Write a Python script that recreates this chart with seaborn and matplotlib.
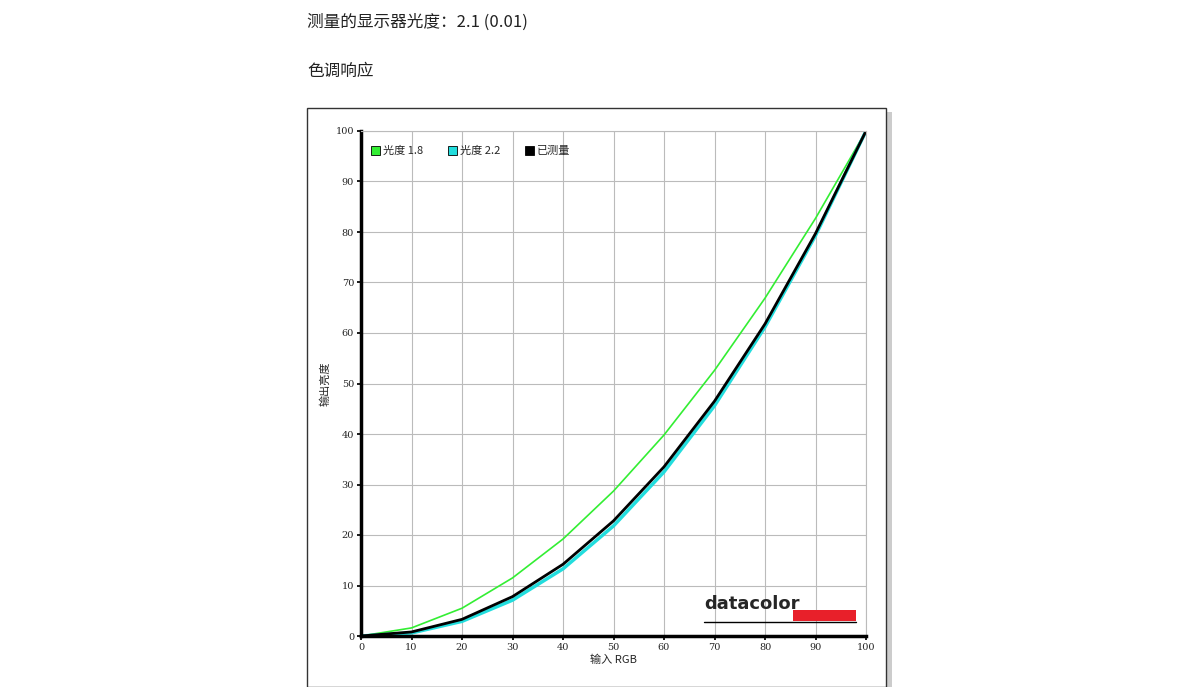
import matplotlib
matplotlib.use("Agg")
import matplotlib.pyplot as plt
import seaborn as sns
import pandas as pd
from matplotlib.patches import Rectangle

sns.set_theme(style="whitegrid")
plt.rcParams['font.family'] = ['Noto Sans CJK SC', 'DejaVu Sans']

x_rgb = [0, 10, 20, 30, 40, 50, 60, 70, 80, 90, 100]
gamma18 = [0, 1.6, 5.5, 11.5, 19.2, 28.7, 39.8, 52.6, 66.9, 82.7, 100]
gamma22 = [0, 0.6, 2.9, 7.1, 13.3, 21.8, 32.5, 45.6, 61.2, 79.3, 100]
measured = [0, 0.8, 3.3, 7.8, 14.2, 22.8, 33.5, 46.5, 61.8, 79.7, 100]
labels = ["光度 1.8", "光度 2.2", "已测量"]
colors = ["#33ee33", "#22dddd", "#000000"]

fig = plt.figure(figsize=(12, 6.87), dpi=100)
fig.patch.set_facecolor("white")
W, H = 1200, 687
fig.patches.append(Rectangle((310/W, 0), 582/W, 1-112/H, transform=fig.transFigure,
                             facecolor="#cccccc", edgecolor="none", zorder=-3))
fig.patches.append(Rectangle((307/W, 0), 579/W, 1-108/H, transform=fig.transFigure,
                             facecolor="white", edgecolor="#333333", lw=1, zorder=-2))
fig.text(307/W, 1-22/H, "测量的显示器光度：2.1 (0.01)", fontsize=12, va="center", color="#222222")
fig.text(307/W, 1-71/H, "色调响应", fontsize=12, va="center", color="#222222")

ax = fig.add_axes([361/W, 1-636/H, 505/W, 505/H])
ax.set_zorder(1)
ax.set_facecolor("white")
df = pd.DataFrame({"x": x_rgb * 3,
                   "y": gamma18 + gamma22 + measured,
                   "s": [labels[0]]*11 + [labels[1]]*11 + [labels[2]]*11})
sns.lineplot(data=df[df.s == labels[0]], x="x", y="y", color=colors[0], lw=1.2, ax=ax, legend=False)
sns.lineplot(data=df[df.s == labels[1]], x="x", y="y", color=colors[1], lw=2.5, ax=ax, legend=False)
sns.lineplot(data=df[df.s == labels[2]], x="x", y="y", color=colors[2], lw=2, ax=ax, legend=False)
ax.set_xlim(0, 100); ax.set_ylim(0, 100)
ax.set_xticks(range(0, 101, 10)); ax.set_yticks(range(0, 101, 10))
ax.grid(True, color="#bbbbbb", lw=0.8)
for s in ["left", "bottom"]:
    ax.spines[s].set_color("black"); ax.spines[s].set_linewidth(2.5)
for s in ["top", "right"]:
    ax.spines[s].set_color("#bbbbbb"); ax.spines[s].set_linewidth(0.8)
ax.tick_params(labelsize=7, length=3, color="black", pad=2, left=True, bottom=True)
for t in ax.get_xticklabels() + ax.get_yticklabels():
    t.set_family("DejaVu Serif")
ax.set_xlabel("输入 RGB", fontsize=8, labelpad=2)
ax.set_ylabel("输出亮度", fontsize=8, labelpad=4)

handles = [Rectangle((0, 0), 1, 1, facecolor=c, edgecolor="black", lw=0.6) for c in colors]
ax.legend(handles, labels, loc="upper left", ncol=3, frameon=False, fontsize=8,
          handlelength=0.8, handleheight=0.8, handletextpad=0.3, columnspacing=2.2,
          bbox_to_anchor=(0.0, 0.99))

ax.text(0.68, 0.045, "datacolor", transform=ax.transAxes, fontsize=13, fontweight="bold",
        family="DejaVu Sans", va="bottom", ha="left")
ax.add_patch(Rectangle((0.855, 0.03), 0.125, 0.022, transform=ax.transAxes,
                       facecolor="#e8202a", edgecolor="none"))
ax.plot([0.68, 0.98], [0.027, 0.027], transform=ax.transAxes, color="black", lw=1)

fig.savefig("out.png", dpi=100)
